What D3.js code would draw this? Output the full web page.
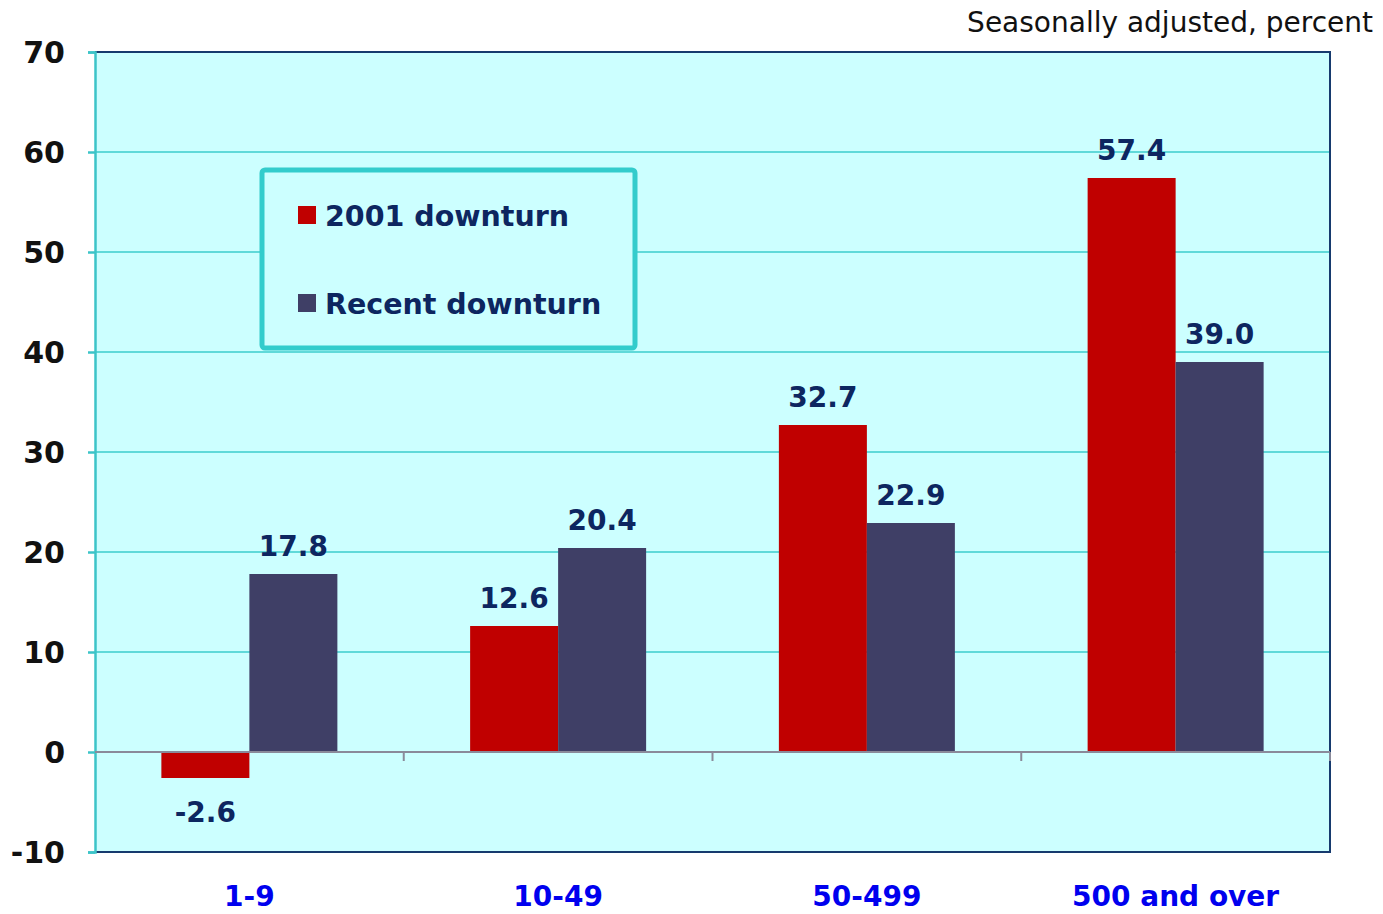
<!DOCTYPE html>
<html>
<head>
<meta charset="utf-8">
<script src="https://cdn.jsdelivr.net/npm/d3@7"></script>
<style>
  body { margin: 0; background: #ffffff; }
  svg text { font-family: "DejaVu Sans", Verdana, sans-serif; }
</style>
</head>
<body>
<svg id="chart" width="1383" height="914"></svg>
<script>
// ============================================================
// Data
// ============================================================
const categories = ["1-9", "10-49", "50-499", "500 and over"];
const seriesNames = ["2001 downturn", "Recent downturn"];
const downturn2001 = [-2.6, 12.6, 32.7, 57.4];
const recentDownturn = [17.8, 20.4, 22.9, 39.0];
const yTicks = [-10, 0, 10, 20, 30, 40, 50, 60, 70];

const COLORS = ["#c00000", "#3f3f66"];
const LABEL_COLOR = "#0d2660";

const svg = d3.select("#chart");
const plot = { left: 95, right: 1330, top: 52, bottom: 852 };

const x0 = d3.scaleBand()
    .domain(categories)
    .range([plot.left, plot.right])
    .padding(0);

const x1 = d3.scaleBand()
    .domain(seriesNames)
    .range([0, 176])
    .padding(0);

const y = d3.scaleLinear()
    .domain([-10, 70])
    .range([plot.bottom, plot.top]);

// background
svg.append("rect")
    .attr("x", plot.left).attr("y", plot.top)
    .attr("width", plot.right - plot.left)
    .attr("height", plot.bottom - plot.top)
    .attr("fill", "#ccffff");

// gridlines
svg.append("g")
    .selectAll("line")
    .data(yTicks.filter(d => d !== 0 && d !== -10 && d !== 70))
    .enter().append("line")
    .attr("x1", plot.left).attr("x2", plot.right)
    .attr("y1", d => y(d)).attr("y2", d => y(d))
    .attr("stroke", "#3ccccc").attr("stroke-width", 1.5);

// border top/right/bottom
svg.append("path")
    .attr("d", `M${plot.left},${plot.top}H${plot.right}V${plot.bottom}H${plot.left}`)
    .attr("fill", "none")
    .attr("stroke", "#163a6e").attr("stroke-width", 2);

// left y axis
const yAxis = svg.append("g")
    .attr("transform", `translate(${plot.left},0)`)
    .call(d3.axisLeft(y).tickValues(yTicks).tickFormat(d => String(d)).tickSize(7).tickPadding(23));
yAxis.select(".domain").attr("stroke", "#3cc4c8").attr("stroke-width", 2.5);
yAxis.selectAll(".tick line").attr("stroke", "#3cc4c8").attr("stroke-width", 2.5);
yAxis.selectAll(".tick text")
    .attr("fill", "#111111")
    .attr("font-size", 30)
    .attr("font-weight", "bold")
    .attr("font-family", "DejaVu Sans, sans-serif")
    .attr("dy", "0.36em");

// bars
const rows = categories.map((c, i) => ({
    cat: c,
    values: [
        { name: seriesNames[0], value: downturn2001[i], color: COLORS[0] },
        { name: seriesNames[1], value: recentDownturn[i], color: COLORS[1] }
    ]
}));

const groups = svg.append("g")
    .selectAll("g")
    .data(rows)
    .enter().append("g")
    .attr("transform", d => `translate(${x0(d.cat) + x0.bandwidth() / 2 - 88},0)`);

groups.selectAll("rect")
    .data(d => d.values)
    .enter().append("rect")
    .attr("x", d => x1(d.name))
    .attr("width", x1.bandwidth())
    .attr("y", d => y(Math.max(0, d.value)))
    .attr("height", d => Math.abs(y(d.value) - y(0)))
    .attr("fill", d => d.color);

groups.selectAll("text")
    .data(d => d.values)
    .enter().append("text")
    .attr("x", d => x1(d.name) + x1.bandwidth() / 2)
    .attr("y", d => d.value >= 0 ? y(d.value) - 18 : y(d.value) + 44)
    .attr("text-anchor", "middle")
    .attr("font-size", 28)
    .attr("font-weight", "bold")
    .attr("fill", LABEL_COLOR)
    .text(d => d.value.toFixed(1));

// zero line with category separators
svg.append("line")
    .attr("x1", plot.left).attr("x2", plot.right)
    .attr("y1", y(0)).attr("y2", y(0))
    .attr("stroke", "#8a8a9a").attr("stroke-width", 2);

svg.append("g")
    .selectAll("line")
    .data(categories.slice(1).map(c => x0(c)).concat([plot.right]))
    .enter().append("line")
    .attr("x1", d => d).attr("x2", d => d)
    .attr("y1", y(0)).attr("y2", y(0) + 9)
    .attr("stroke", "#8a8a9a").attr("stroke-width", 2);

// category labels
svg.append("g")
    .selectAll("text")
    .data(categories)
    .enter().append("text")
    .attr("x", d => x0(d) + x0.bandwidth() / 2)
    .attr("y", 906)
    .attr("text-anchor", "middle")
    .attr("font-size", 28)
    .attr("font-weight", "bold")
    .attr("fill", "#0000ee")
    .text(d => d);

// legend
const legend = svg.append("g");
legend.append("rect")
    .attr("x", 262).attr("y", 170)
    .attr("width", 373).attr("height", 178)
    .attr("rx", 3)
    .attr("fill", "#ccffff")
    .attr("stroke", "#33cccc").attr("stroke-width", 5);

const legendItems = legend.selectAll("g")
    .data(seriesNames)
    .enter().append("g")
    .attr("transform", (d, i) => `translate(298,${206 + i * 88})`);

legendItems.append("rect")
    .attr("width", 18).attr("height", 18)
    .attr("fill", (d, i) => COLORS[i]);

legendItems.append("text")
    .attr("x", 27).attr("y", 20)
    .attr("font-size", 28.5)
    .attr("font-weight", "bold")
    .attr("fill", LABEL_COLOR)
    .text(d => d);

// units note
svg.append("text")
    .attr("x", 1373).attr("y", 32)
    .attr("text-anchor", "end")
    .attr("font-size", 28)
    .attr("fill", "#111111")
    .attr("font-family", "Open Sans, sans-serif")
    .text("Seasonally adjusted, percent");
</script>
</body>
</html>
